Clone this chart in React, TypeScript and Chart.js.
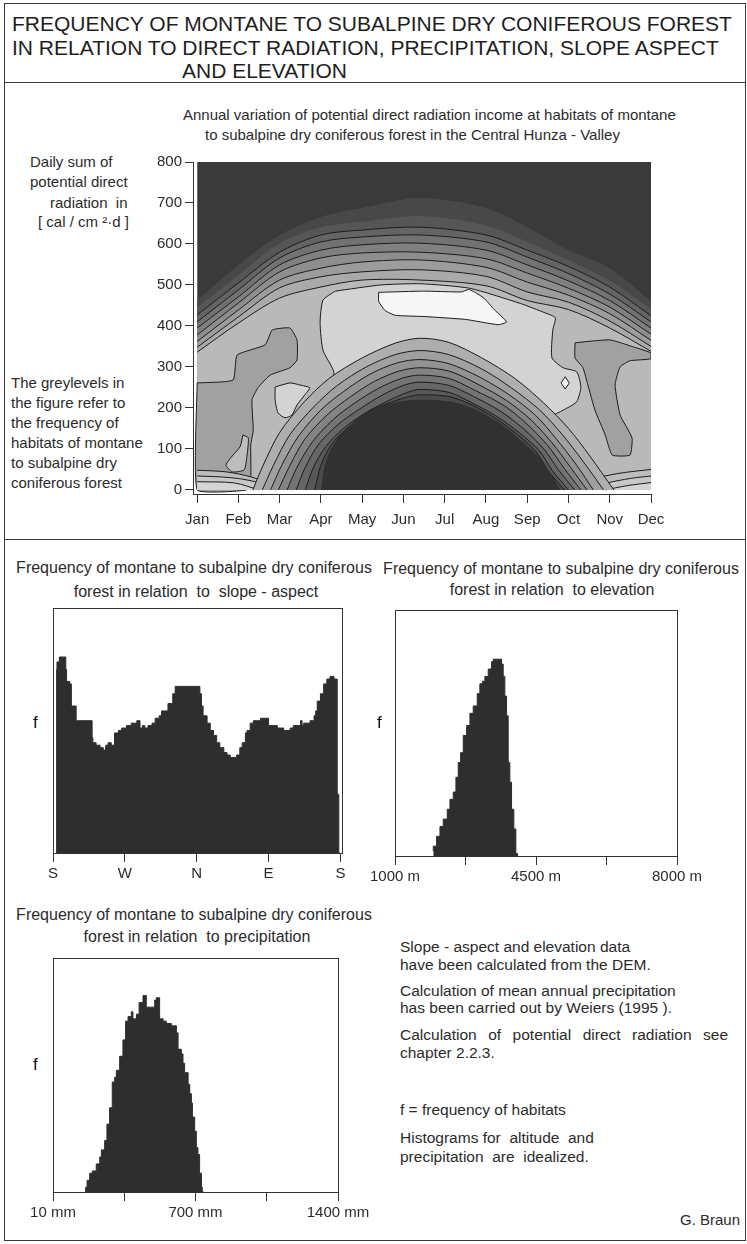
import React, { useEffect, useRef } from 'react';
import { Chart, registerables } from 'chart.js';

Chart.register(...registerables);

const FONT = '"Liberation Sans", Arial, Helvetica, sans-serif';
Chart.defaults.font.family = FONT;
Chart.defaults.color = '#2b2b2b';

// ---------------- contour plot data ----------------
const MONTHS = ['Jan', 'Feb', 'Mar', 'Apr', 'May', 'Jun', 'Jul', 'Aug', 'Sep', 'Oct', 'Nov', 'Dec'];
const MONTH_TICKS = [0, 1, 2, 3, 4, 5, 6, 7, 8, 9, 10, 11];
const RAD_TICKS = [0, 100, 200, 300, 400, 500, 600, 700, 800];

// upper contour lines: radiation value of each contour at these month positions
const UPPER_X = [0, 1, 2, 3, 4, 5.4, 7, 8, 9, 10, 11];
const UPPER_U0 = [463, 549, 622, 666, 688, 712, 688, 641, 585, 541, 460];
const UPPER_U1 = [445, 524, 602, 641, 654, 668, 645, 605, 560, 510, 442];
const UPPER_U2 = [427, 505, 580, 622, 634, 641, 622, 585, 545, 495, 425];
const UPPER_U3 = [410, 488, 566, 605, 617, 622, 605, 568, 528, 478, 410];
const UPPER_U4 = [395, 471, 549, 585, 598, 602, 585, 549, 510, 462, 395];
const UPPER_U5 = [378, 456, 532, 566, 578, 580, 564, 529, 492, 446, 380];
const UPPER_U6 = [362, 439, 512, 541, 556, 561, 543, 507, 475, 430, 365];
const UPPER_U7 = [348, 422, 493, 520, 532, 537, 521, 483, 458, 412, 350];
const UPPER_U8 = [336, 407, 468, 495, 512, 512, 498, 462, 440, 395, 338];
const UPPER_LEVELS = [UPPER_U0, UPPER_U1, UPPER_U2, UPPER_U3, UPPER_U4, UPPER_U5, UPPER_U6, UPPER_U7, UPPER_U8];

// closed regions [month, radiation]
const REGION_MID_LEFT = [[0, 261], [0.87, 268], [0.97, 329], [1.65, 354], [1.82, 390], [2.25, 395], [2.42, 366], [2.42, 317], [2.25, 298], [1.77, 280], [1.48, 250], [1.33, 220], [1.36, 146], [1.3, 110], [1.3, 30], [1.2, 0], [0, 0]];
const REGION_MID_RIGHT = [[9.16, 359], [10.0, 366], [10.6, 348], [11, 334], [11, 320], [10.49, 315], [10.25, 300], [10.13, 256], [10.25, 183], [10.54, 127], [10.49, 85], [10.06, 85], [9.89, 134], [9.64, 195], [9.47, 256], [9.35, 298], [9.16, 322]];
const REGION_LIGHT = [[3.35, 485], [4.45, 500], [5.4, 503], [6.6, 492], [7.83, 455], [8.43, 432], [8.68, 420], [8.62, 390], [8.6, 322], [8.87, 298], [9.2, 288], [9.3, 250], [9.2, 215], [8.97, 200], [8.5, 180], [7.5, 250], [5.4, 330], [4.0, 280], [3.4, 240], [3.3, 292], [3.05, 341], [2.98, 407], [3.05, 463]];
const REGION_WHITE = [[4.4, 482], [5.5, 485], [6.4, 483], [6.58, 489], [6.72, 483], [6.95, 468], [7.2, 440], [7.5, 410], [7.3, 403], [6.5, 416], [5.5, 423], [4.8, 426], [4.55, 438], [4.4, 460]];
const REGION_ISLAND = [[1.89, 251], [2.25, 261], [2.49, 256], [2.73, 249], [2.61, 232], [2.42, 207], [2.3, 183], [2.13, 176], [1.96, 188], [1.89, 220]];
const REGION_SMALL = [[1.11, 134], [1.24, 127], [1.21, 85], [1.14, 49], [0.85, 44], [0.7, 61], [0.87, 85], [1.04, 105]];
const REGION_DIAMOND = [[8.92, 276], [9.02, 261], [8.92, 246], [8.82, 261]];

// thin contour lines at the bottom corners
const BOTTOM_LEFT_1 = [[0, 48], [0.7, 44], [1.3, 32], [1.8, 14], [2.3, 0]];
const BOTTOM_LEFT_2 = [[0, 34], [0.8, 30], [1.4, 20], [1.9, 0]];
const BOTTOM_LEFT_3 = [[0, 20], [0.9, 17], [1.5, 0]];
const BOTTOM_RIGHT_1 = [[8.9, 0], [9.5, 24], [10.2, 40], [11, 50]];
const BOTTOM_RIGHT_2 = [[9.4, 0], [9.9, 16], [10.5, 28], [11, 34]];
const BOTTOM_RIGHT_3 = [[9.9, 0], [10.4, 10], [11, 18]];

// lower dome contours (outer to inner)
const DOME_1 = [[1.35, 0], [1.6, 60], [2.0, 140], [2.6, 215], [3.2, 272], [4.0, 322], [4.8, 358], [5.4, 370], [6.1, 360], [6.9, 322], [7.7, 272], [8.4, 212], [9.0, 150], [9.5, 85], [10.1, 0]];
const DOME_2 = [[1.58, 0], [1.85, 60], [2.25, 135], [2.85, 205], [3.4, 255], [4.1, 300], [4.8, 330], [5.4, 340], [6.1, 330], [6.9, 295], [7.6, 250], [8.3, 195], [8.85, 135], [9.35, 70], [9.85, 0]];
const DOME_3 = [[1.78, 0], [2.05, 60], [2.45, 130], [3.0, 195], [3.55, 240], [4.2, 283], [4.85, 310], [5.4, 318], [6.1, 308], [6.85, 275], [7.55, 233], [8.2, 182], [8.7, 125], [9.2, 60], [9.6, 0]];
const DOME_4 = [[1.97, 0], [2.25, 60], [2.62, 125], [3.15, 183], [3.7, 226], [4.3, 265], [4.9, 290], [5.4, 298], [6.1, 290], [6.8, 258], [7.5, 218], [8.1, 170], [8.6, 115], [9.05, 55], [9.45, 0]];
const DOME_5 = [[2.18, 0], [2.42, 55], [2.8, 118], [3.3, 172], [3.82, 212], [4.4, 248], [4.95, 272], [5.4, 280], [6.1, 272], [6.75, 242], [7.45, 205], [8.0, 160], [8.5, 108], [8.9, 52], [9.3, 0]];
const DOME_6 = [[2.4, 0], [2.62, 55], [2.95, 112], [3.42, 160], [3.95, 198], [4.5, 232], [5.0, 255], [5.4, 263], [6.1, 255], [6.7, 228], [7.35, 192], [7.9, 150], [8.4, 100], [8.75, 50], [9.15, 0]];
const DOME_7 = [[2.62, 0], [2.82, 55], [3.12, 106], [3.55, 150], [4.05, 186], [4.6, 216], [5.1, 238], [5.4, 245], [6.1, 238], [6.65, 213], [7.25, 180], [7.8, 140], [8.3, 95], [8.6, 48], [9.0, 0]];
const DOME_8 = [[2.85, 0], [3.0, 60], [3.25, 110], [3.65, 152], [4.15, 190], [4.7, 214], [5.15, 228], [5.4, 232], [6.1, 228], [6.6, 210], [7.15, 180], [7.7, 140], [8.2, 95], [8.5, 48], [8.9, 0]];
const DOME_9 = [[3.0, 0], [3.12, 70], [3.4, 125], [3.85, 170], [4.3, 198], [4.8, 214], [5.4, 220], [6.1, 216], [6.7, 198], [7.3, 165], [7.8, 125], [8.3, 78], [8.6, 35], [8.8, 0]];
const DOMES = [DOME_1, DOME_2, DOME_3, DOME_4, DOME_5, DOME_6, DOME_7, DOME_8, DOME_9];

// ---------------- histogram data ----------------
const ASPECT_DEG = [4.5, 5, 8, 13, 16, 17, 21, 23, 25, 29, 31, 49, 50, 54, 59, 63, 66, 69, 73, 77, 82, 86, 92, 98, 105, 109, 112, 115, 119, 124, 128, 133, 136, 140, 144, 150, 153, 155, 163, 172, 180, 184, 186, 188, 193, 197, 201, 205, 209, 214, 218, 222, 226, 230, 234, 237, 241, 243, 247, 251, 260, 268, 270, 272, 281, 289, 297, 301, 310, 312, 314, 322, 327, 329, 331, 335, 339, 343, 347, 352, 356, 358, 359.5];
const ASPECT_F = [0, 75, 78, 80, 80, 75, 70, 69, 60, 60, 54, 54, 47, 45, 44, 43, 42, 44, 45, 44, 49, 50, 51, 52, 53, 54, 51, 52, 51, 52, 53, 55, 56, 58, 58, 61, 65, 68, 68, 68, 68, 68, 65, 60, 56, 53, 50, 48, 45, 43, 41, 40, 39, 39, 40, 43, 45, 49, 50, 53, 54, 55, 55, 52, 52, 51, 50, 51, 52, 54, 52, 53, 54, 56, 58, 62, 65, 69, 71, 72, 71, 24, 0];
const ASPECT_TICKS = [0, 90, 180, 270, 360];
const ASPECT_LABELS = ['S', 'W', 'N', 'E', 'S'];

const ELEV_M = [1950, 2033, 2116, 2198, 2297, 2364, 2446, 2512, 2570, 2628, 2694, 2777, 2860, 2942, 3041, 3107, 3173, 3231, 3314, 3397, 3438, 3521, 3645, 3686, 3727, 3769, 3810, 3851, 3893, 3950, 4000, 4041, 4058];
const ELEV_F = [2, 4, 8, 12, 15, 19, 23, 26, 32, 38, 42, 49, 53, 58, 61, 66, 70, 71, 73, 76, 79, 80, 80, 78, 73, 65, 57, 38, 30, 19, 11, 1, 0];
const ELEV_TICKS = [1000, 2750, 4500, 6250, 8000];
const ELEV_LABELS = ['1000 m', '', '4500 m', '', '8000 m'];

const PRECIP_MM = [169, 176, 189, 202, 221, 238, 246, 262, 273, 286, 299, 311, 319, 335, 351, 364, 376, 384, 392, 400, 408, 417, 430, 441, 449, 457, 465, 473, 490, 506, 514, 522, 530, 534, 547, 563, 587, 603, 612, 620, 636, 644, 652, 669, 677, 685, 690, 701, 709, 717, 725, 734, 738, 745];
const PRECIP_F = [0, 2, 5, 8, 9, 12, 15, 18, 22, 29, 36, 47, 49, 52, 58, 65, 73, 75, 75, 77, 74, 74, 76, 81, 81, 84, 84, 79, 79, 79, 82, 83, 83, 74, 74, 73, 72, 71, 71, 68, 61, 59, 55, 51, 46, 42, 38, 32, 26, 19, 16, 8, 2, 0];
const PRECIP_TICKS = [10, 357.5, 705, 1052.5, 1400];
const PRECIP_LABELS = ['10 mm', '', '700 mm', '', '1400 mm'];

// ---------------- styles ----------------
const AXIS = '#333333';
const LINE = '#1c1c1c';
const BG_DARK = '#3a3a3a';
const UPPER_FILLS = ['#484848', '#565656', '#646464', '#727272', '#808080', '#8e8e8e', '#9c9c9c', '#aaaaaa', '#b9b9b9'];
const DOME_FILLS = ['#aeaeae', '#a0a0a0', '#929292', '#838383', '#747474', '#666666', '#585858', '#4a4a4a', '#313131'];
const MID_GREY = '#a1a1a1';
const LIGHT_GREY = '#d3d3d3';
const WHITE_GREY = '#f6f6f6';
const HIST_FILL = '#2e2e2e';

function contourConfig(): any {
  const layers: any[] = [];
  const add = (pts: number[][], color: string, lined: boolean, fill: any, tension: number, close = false) => {
    const p = close ? pts.concat([pts[0]]) : pts;
    layers.push({ pts: p, color, lined, fill, tension });
  };
  add([[0, 800], [11, 800]], BG_DARK, false, { value: 0 }, 0);
  UPPER_LEVELS.forEach((lv, k) => add(UPPER_X.map((x, i) => [x, lv[i]]), UPPER_FILLS[k], k >= 2, { value: 0 }, 0.3));
  add(REGION_MID_LEFT, MID_GREY, true, 'shape', 0.15, true);
  add(REGION_MID_RIGHT, MID_GREY, true, 'shape', 0.15, true);
  add(REGION_LIGHT, LIGHT_GREY, true, 'shape', 0.2, true);
  add(REGION_WHITE, WHITE_GREY, true, 'shape', 0.15, true);
  add(REGION_ISLAND, LIGHT_GREY, true, 'shape', 0.2, true);
  add(REGION_SMALL, '#bdbdbd', true, 'shape', 0.2, true);
  add(REGION_DIAMOND, WHITE_GREY, true, 'shape', 0, true);
  add(BOTTOM_LEFT_1, '#bdbdbd', true, { value: 0 }, 0.3);
  add(BOTTOM_LEFT_2, '#c8c8c8', true, { value: 0 }, 0.3);
  add(BOTTOM_LEFT_3, '#d4d4d4', true, { value: 0 }, 0.3);
  add(BOTTOM_RIGHT_1, '#bdbdbd', true, { value: 0 }, 0.3);
  add(BOTTOM_RIGHT_2, '#c8c8c8', true, { value: 0 }, 0.3);
  add(BOTTOM_RIGHT_3, '#d4d4d4', true, { value: 0 }, 0.3);
  DOMES.forEach((d, k) => add(d, DOME_FILLS[k], k < 8, { value: 0 }, 0.3));

  const datasets = layers.map((l, i) => ({
    data: l.pts.map((p: number[]) => ({ x: p[0], y: p[1] })),
    fill: l.fill,
    backgroundColor: l.color,
    borderColor: LINE,
    borderWidth: l.lined ? 1 : 0,
    pointRadius: 0,
    tension: l.tension,
    order: layers.length - i,
  }));

  return {
    type: 'line',
    data: { datasets },
    options: {
      responsive: false,
      animation: false,
      events: [],
      layout: { padding: { top: 12, right: 29, left: 0, bottom: 0 } },
      plugins: { legend: { display: false }, tooltip: { enabled: false } },
      scales: {
        x: {
          type: 'linear', min: -0.1, max: 11,
          afterBuildTicks: (s: any) => { s.ticks = MONTH_TICKS.map((v) => ({ value: v })); },
          afterFit: (s: any) => { s.height = 36; },
          ticks: { autoSkip: false, maxRotation: 0, padding: 8, color: '#2b2b2b', font: { size: 15 }, callback: (v: any) => MONTHS[Math.round(v)] ?? '' },
          grid: { display: true, drawOnChartArea: false, drawTicks: true, tickLength: 9, color: AXIS },
          border: { display: true, color: AXIS },
        },
        y: {
          type: 'linear', min: -10, max: 800,
          afterBuildTicks: (s: any) => { s.ticks = RAD_TICKS.map((v) => ({ value: v })); },
          afterFit: (s: any) => { s.width = 53; },
          ticks: { padding: 3, color: '#2b2b2b', font: { size: 15 } },
          grid: { display: true, drawOnChartArea: false, drawTicks: true, tickLength: 8, color: AXIS },
          border: { display: true, color: AXIS },
        },
      },
    },
  };
}

function histConfig(xs: number[], ys: number[], xmin: number, xmax: number, ticks: number[], labels: string[], pad: any, axisH: number): any {
  return {
    type: 'line',
    data: {
      datasets: [{
        data: xs.map((x, i) => ({ x, y: ys[i] })),
        stepped: 'after',
        fill: 'origin',
        backgroundColor: HIST_FILL,
        borderColor: HIST_FILL,
        borderWidth: 1,
        pointRadius: 0,
      }],
    },
    options: {
      responsive: false,
      animation: false,
      events: [],
      layout: { padding: pad },
      plugins: { legend: { display: false }, tooltip: { enabled: false } },
      scales: {
        x: {
          type: 'linear', min: xmin, max: xmax,
          afterBuildTicks: (s: any) => { s.ticks = ticks.map((v) => ({ value: v })); },
          afterFit: (s: any) => { s.height = axisH; },
          ticks: { autoSkip: false, maxRotation: 0, padding: 3, color: '#2b2b2b', font: { size: 15 }, callback: (v: any) => labels[ticks.indexOf(v)] ?? '' },
          grid: { display: true, drawOnChartArea: false, drawTicks: true, tickLength: 9, color: AXIS },
          border: { display: true, color: AXIS },
        },
        xTop: {
          type: 'linear', position: 'top', min: 0, max: 1,
          ticks: { display: false }, grid: { display: false, drawTicks: false },
          border: { display: true, color: AXIS },
          afterFit: (s: any) => { s.height = 0; },
        },
        y: {
          type: 'linear', min: 0, max: 100,
          ticks: { display: false }, grid: { display: false, drawTicks: false },
          border: { display: true, color: AXIS },
          afterFit: (s: any) => { s.width = 0; },
        },
        yRight: {
          type: 'linear', position: 'right', min: 0, max: 1,
          ticks: { display: false }, grid: { display: false, drawTicks: false },
          border: { display: true, color: AXIS },
          afterFit: (s: any) => { s.width = 0; },
        },
      },
    },
  };
}

function ChartCanvas({ left, top, width, height, make }: { left: number; top: number; width: number; height: number; make: () => any }) {
  const ref = useRef<HTMLCanvasElement | null>(null);
  useEffect(() => {
    if (!ref.current) return;
    const chart = new Chart(ref.current, make());
    return () => chart.destroy();
  }, []);
  return <canvas ref={ref} width={width} height={height} style={{ position: 'absolute', left, top, width, height }} />;
}

function T({ x, y, size = 15, children, center = false, color = '#2b2b2b', style = {} }: any) {
  return (
    <div
      style={{
        position: 'absolute',
        left: x,
        top: y - size * 0.52,
        fontSize: size,
        lineHeight: `${size}px`,
        whiteSpace: 'pre',
        color,
        transform: center ? 'translateX(-50%)' : undefined,
        ...style,
      }}
    >
      {children}
    </div>
  );
}

export default function App() {
  return (
    <div style={{ position: 'absolute', left: 0, top: 0, width: 747, height: 1244, background: '#ffffff', fontFamily: FONT, overflow: 'hidden' }}>
      {/* frames */}
      <div style={{ position: 'absolute', left: 4, top: 3, width: 740, height: 1236, border: '1px solid #3a3a3a' }} />
      <div style={{ position: 'absolute', left: 4, top: 82, width: 741, height: 1, background: '#3a3a3a' }} />
      <div style={{ position: 'absolute', left: 4, top: 539, width: 741, height: 1, background: '#3a3a3a' }} />

      {/* header */}
      <T x={12} y={24} size={21} color="#1e1e1e">FREQUENCY OF MONTANE TO SUBALPINE DRY CONIFEROUS FOREST</T>
      <T x={12} y={47.5} size={21} color="#1e1e1e">IN RELATION TO DIRECT RADIATION, PRECIPITATION, SLOPE ASPECT</T>
      <T x={182} y={71} size={21} color="#1e1e1e">AND ELEVATION</T>

      {/* contour section */}
      <T x={183} y={115}>Annual variation of potential direct radiation income at habitats of montane</T>
      <T x={205} y={135}>to subalpine dry coniferous forest in the Central Hunza - Valley</T>
      <T x={30} y={162}>Daily sum of</T>
      <T x={30} y={182}>potential direct</T>
      <T x={50} y={203}>radiation  in</T>
      <T x={38} y={222}>[ cal / cm ²·d ]</T>
      <T x={11} y={383}>The greylevels in</T>
      <T x={11} y={403}>the figure refer to</T>
      <T x={11} y={423}>the frequency of</T>
      <T x={11} y={443}>habitats of montane</T>
      <T x={11} y={463}>to subalpine dry</T>
      <T x={11} y={483}>coniferous forest</T>
      <ChartCanvas left={140} top={150} width={540} height={380} make={contourConfig} />

      {/* histogram: slope aspect */}
      <T x={194} y={568} size={16} center>Frequency of montane to subalpine dry coniferous</T>
      <T x={196} y={592} size={16} center>forest in relation  to  slope - aspect</T>
      <T x={33} y={723} size={17} color="#111">f</T>
      <ChartCanvas left={20} top={590} width={360} height={300}
        make={() => histConfig(ASPECT_DEG, ASPECT_F, 0, 362, ASPECT_TICKS, ASPECT_LABELS, { left: 33, top: 18, right: 38, bottom: 0 }, 37)} />

      {/* histogram: elevation */}
      <T x={561} y={569} size={16} center>Frequency of montane to subalpine dry coniferous</T>
      <T x={552} y={590} size={16} center>forest in relation  to elevation</T>
      <T x={377} y={723} size={17} color="#111">f</T>
      <ChartCanvas left={360} top={590} width={370} height={300}
        make={() => histConfig(ELEV_M, ELEV_F, 1000, 8000, ELEV_TICKS, ELEV_LABELS, { left: 35, top: 20, right: 53, bottom: 0 }, 34)} />

      {/* histogram: precipitation */}
      <T x={194} y={915} size={16} center>Frequency of montane to subalpine dry coniferous</T>
      <T x={197} y={937} size={16} center>forest in relation  to precipitation</T>
      <T x={33} y={1065} size={17} color="#111">f</T>
      <ChartCanvas left={20} top={940} width={370} height={300}
        make={() => histConfig(PRECIP_MM, PRECIP_F, 10, 1400, PRECIP_TICKS, PRECIP_LABELS, { left: 33, top: 18, right: 52, bottom: 0 }, 48)} />

      {/* notes */}
      <T x={400} y={947} size={15.5}>Slope - aspect and elevation data</T>
      <T x={400} y={965} size={15.5}>have been calculated from the DEM.</T>
      <T x={400} y={991} size={15.5}>Calculation of mean annual precipitation</T>
      <T x={400} y={1008} size={15.5}>has been carried out by Weiers (1995 ).</T>
      <T x={400} y={1035} size={15.5} style={{ width: 328, textAlign: 'justify', textAlignLast: 'justify', whiteSpace: 'normal' }}>Calculation of potential direct radiation see</T>
      <T x={400} y={1053} size={15.5}>chapter 2.2.3.</T>
      <T x={400} y={1110} size={15.5}>f = frequency of habitats</T>
      <T x={400} y={1138} size={15.5}>Histograms for  altitude  and</T>
      <T x={400} y={1157} size={15.5}>precipitation  are  idealized.</T>
      <T x={680} y={1220} size={15}>G. Braun</T>
    </div>
  );
}
